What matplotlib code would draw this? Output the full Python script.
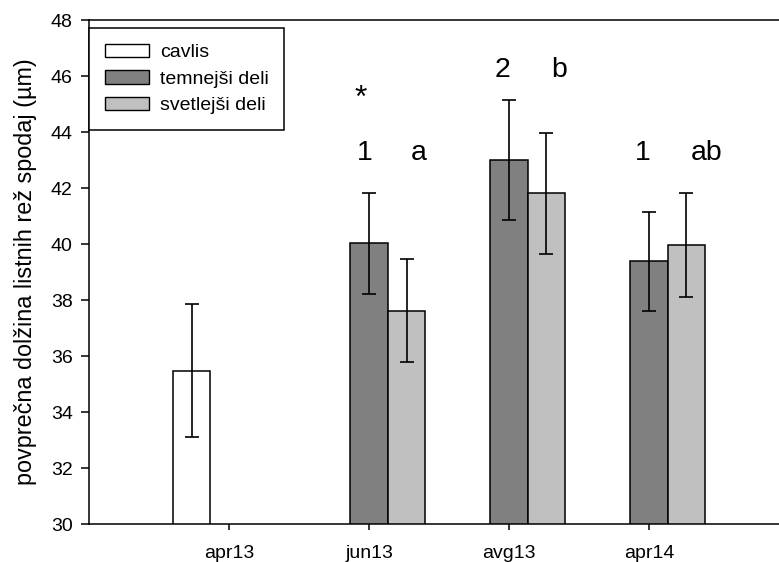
import numpy as np
import matplotlib.pyplot as plt
from matplotlib.patches import Patch

plt.rcParams['font.family'] = ['Liberation Sans', 'DejaVu Sans']

months = ['apr13', 'jun13', 'avg13', 'apr14']
pos = np.array([1, 2, 3, 4])

# cavlis only at apr13
cavlis = [35.47]
cavlis_err = [2.37]

temnejsi = [40.02, 43.00, 39.38]
temnejsi_err = [1.80, 2.14, 1.78]

svetlejsi = [37.62, 41.82, 39.96]
svetlejsi_err = [1.83, 2.16, 1.85]

letters = [('*', 1.943, 45.20, 23), ('1', 1.97, 43.25, 20.5), ('a', 2.357, 43.25, 20.5),
           ('2', 2.957, 46.21, 20.5), ('b', 3.357, 46.21, 20.5),
           ('1', 3.957, 43.25, 20.5), ('ab', 4.414, 43.25, 20.5)]

w = 0.268
err_kw = dict(ecolor='black', elinewidth=1.2, capsize=5, capthick=1.2)

fig = plt.figure(figsize=(7.79, 5.62), dpi=100)
ax = fig.add_axes([0.1143, 0.0676, 0.8857, 0.8968])

ax.bar(pos[:1] - w, cavlis, w, yerr=cavlis_err, color='white',
       edgecolor='black', linewidth=1.1, error_kw=err_kw)
ax.bar(pos[1:], temnejsi, w, yerr=temnejsi_err, color='#808080',
       edgecolor='black', linewidth=1.1, error_kw=err_kw)
ax.bar(pos[1:] + w, svetlejsi, w, yerr=svetlejsi_err, color='#c0c0c0',
       edgecolor='black', linewidth=1.1, error_kw=err_kw)

for txt, x, y, fs in letters:
    ax.text(x, y, txt, fontsize=fs, ha='center', va='center')

ax.set_xlim(0, 4.929)
ax.set_ylim(30, 48)
ax.set_yticks(np.arange(30, 49, 2))
ax.set_xticks(pos)
ax.set_xticklabels(months)
ax.tick_params(axis='y', direction='out', length=5.8, width=1.1, labelsize=14, pad=6)
ax.tick_params(axis='x', direction='out', length=4.3, width=1.1, labelsize=14, pad=11)
ax.spines['right'].set_visible(False)
for s in ['left', 'bottom', 'top']:
    ax.spines[s].set_linewidth(1.1)

ax.set_ylabel('povprečna dolžina listnih rež spodaj (µm)', fontsize=16.8, labelpad=10)

handles = [Patch(facecolor='white', edgecolor='black', label='cavlis'),
           Patch(facecolor='#808080', edgecolor='black', label='temnejši deli'),
           Patch(facecolor='#c0c0c0', edgecolor='black', label='svetlejši deli')]
leg = ax.legend(handles=handles, loc='upper left', bbox_to_anchor=(0, 1 - 8 / 504),
                borderaxespad=0, fontsize=14, fancybox=False, framealpha=1,
                handlelength=2.27, handleheight=0.72, labelspacing=0.45,
                borderpad=0.8, handletextpad=0.57)
leg.get_frame().set_edgecolor('black')
leg.get_frame().set_linewidth(1.1)

fig.savefig('out.png', dpi=100)
